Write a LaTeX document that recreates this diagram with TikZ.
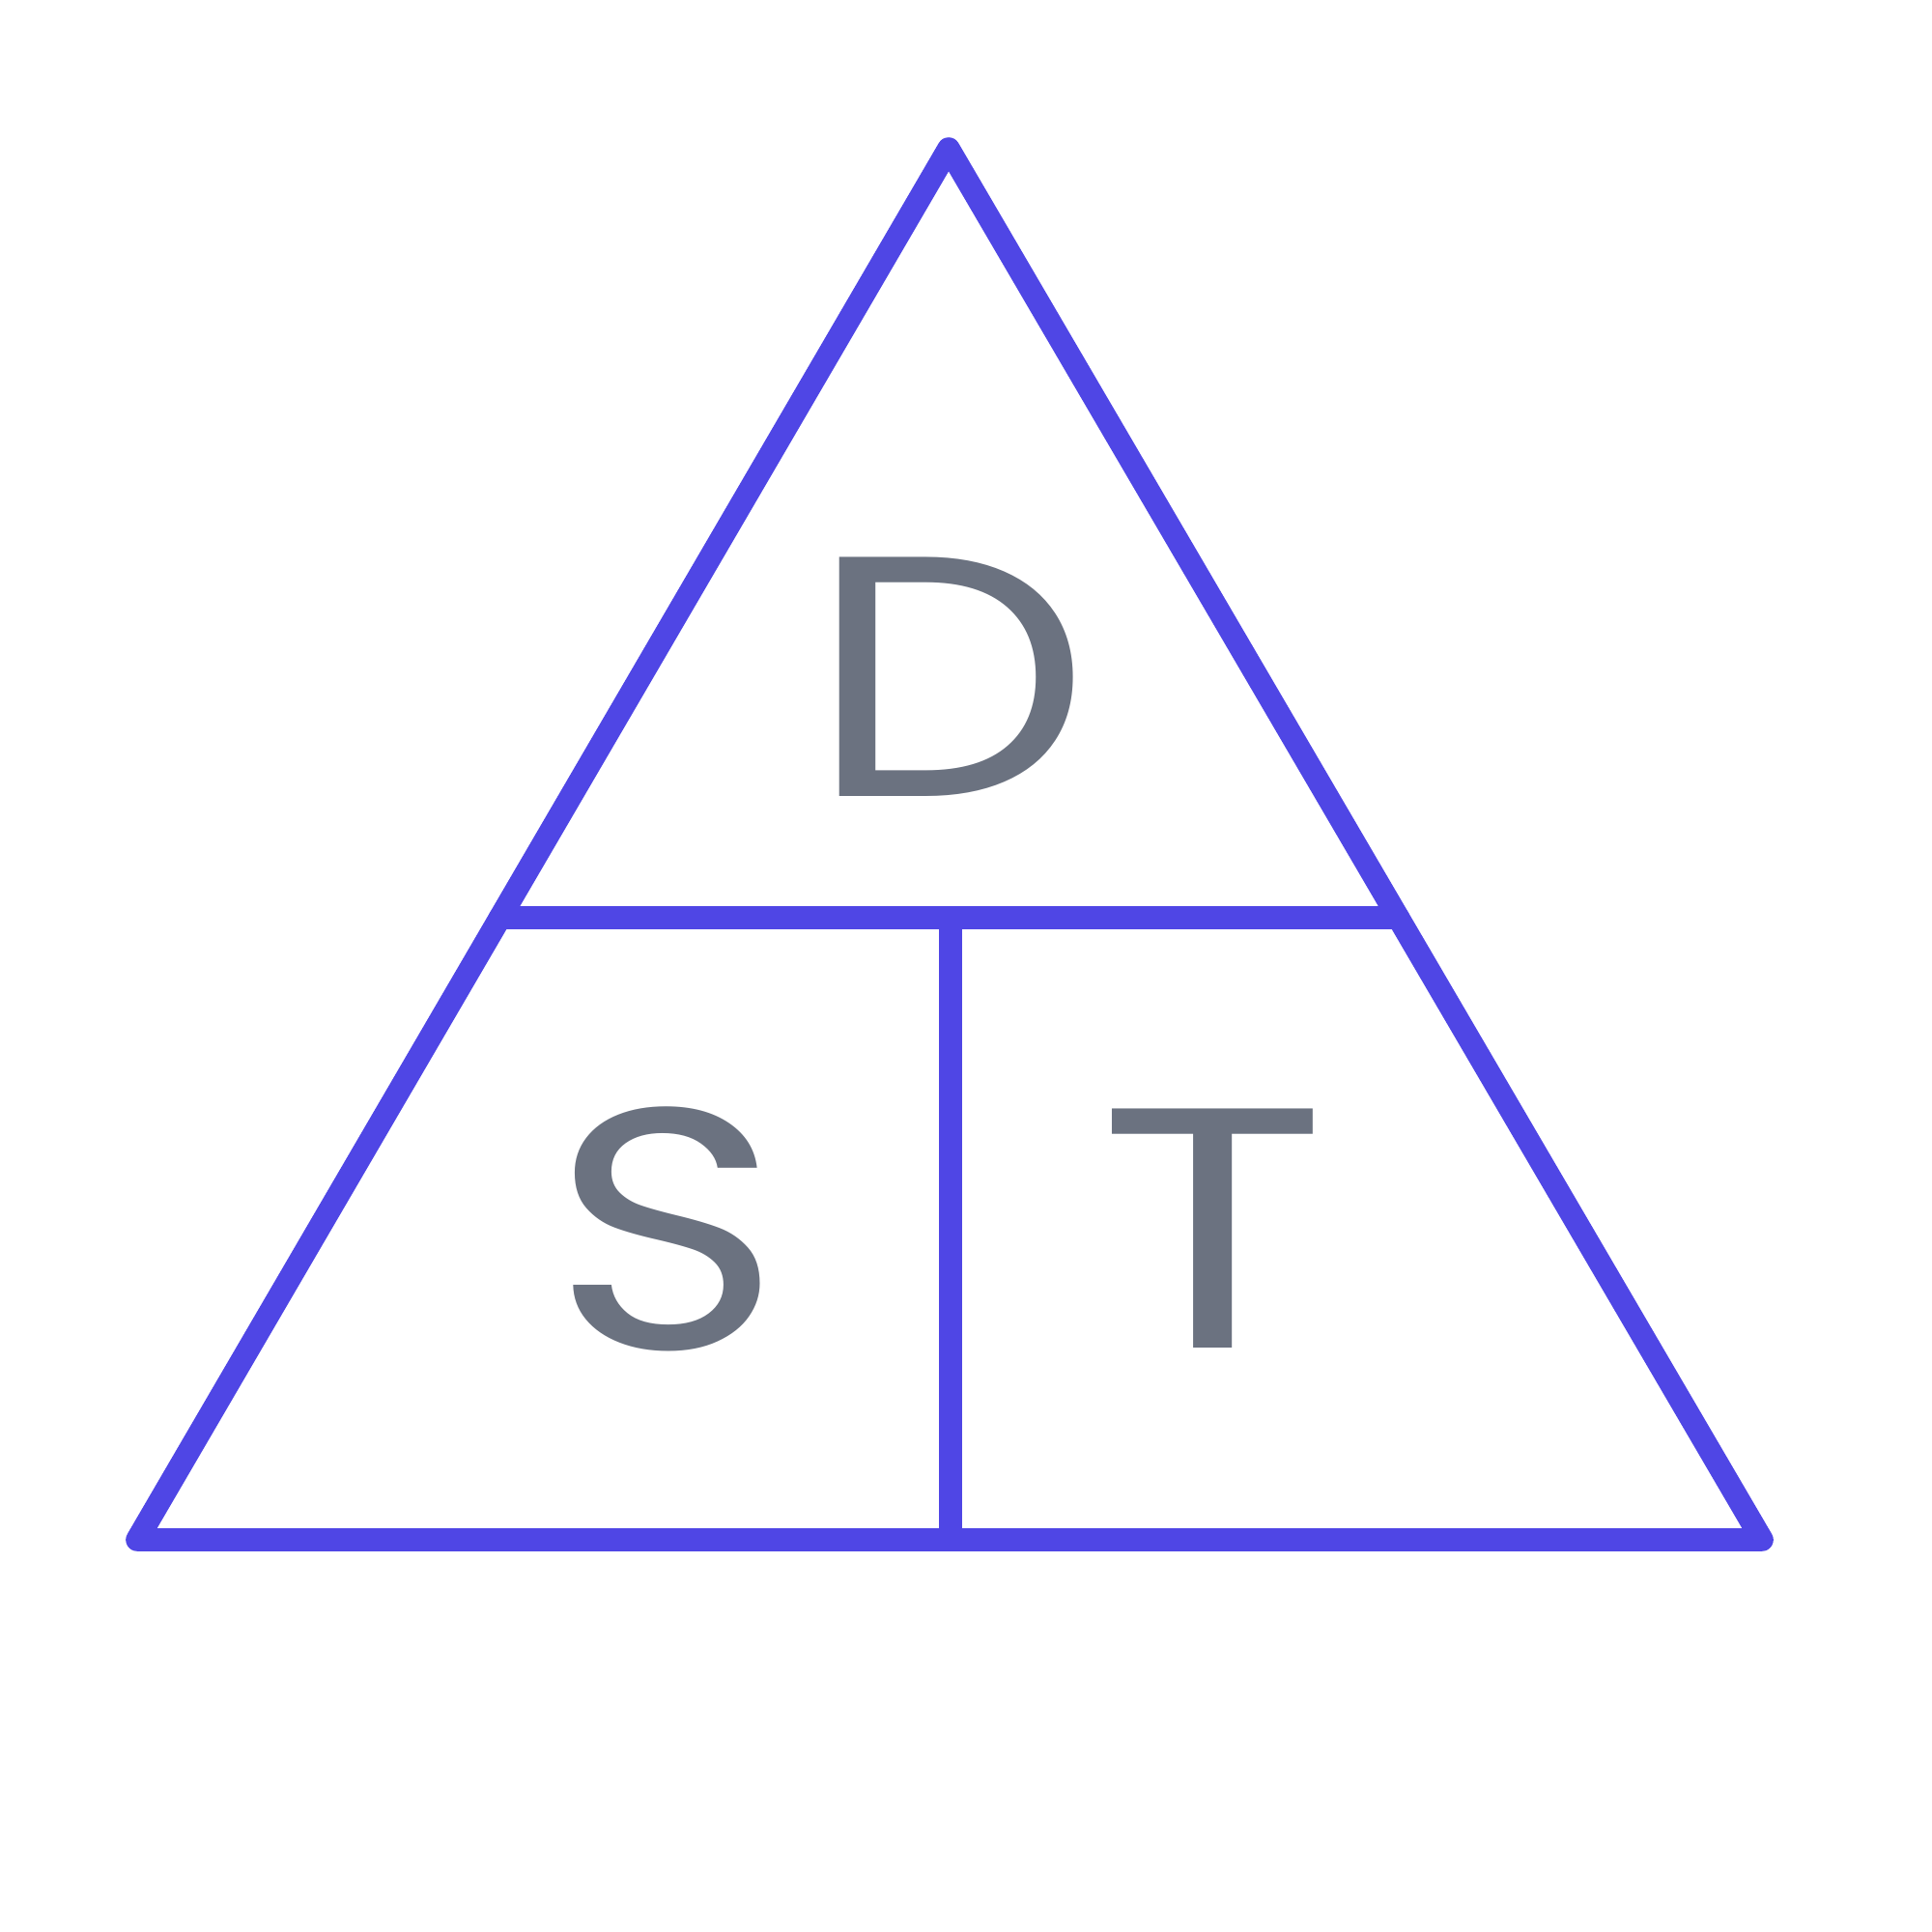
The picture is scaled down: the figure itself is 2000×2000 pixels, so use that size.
\documentclass[tikz,border=0pt]{standalone}
\usepackage{graphicx}
\usepackage{fontspec}
\setmainfont{Poppins}
\definecolor{edge}{HTML}{4F46E5}
\definecolor{txt}{HTML}{6B7280}
\newcommand{\wideletter}[2]{\scalebox{#1}[1]{#2}}
\begin{document}
\begin{tikzpicture}[x=0.01cm,y=-0.01cm,
  edgeline/.style={draw=edge,line width=6.7pt,line join=round,line cap=round},
  letter/.style={text=txt,font=\fontsize{101}{101}\selectfont,inner sep=0pt,anchor=center}]
\useasboundingbox (0,0) rectangle (2000,2000);
\coordinate (A) at (982,154);
\coordinate (BL) at (142,1594);
\coordinate (BR) at (1824,1594);
\path (A) -- (BL) coordinate[pos=0.5528] (ML);
\path (A) -- (BR) coordinate[pos=0.5528] (MR);
\coordinate (MC) at (984,950);
\coordinate (BC) at (984,1594);
\draw[edgeline] (A) -- (BR) -- (BL) -- cycle;
\draw[edgeline] (ML) -- (MR);
\draw[edgeline,line cap=butt] (MC) -- (BC);
\node[letter] (D) at (983,701) {\wideletter{1.16}{D}};
\node[letter] (S) at (690,1272) {\wideletter{1.15}{S}};
\node[letter] (T) at (1256,1272) {\wideletter{1.24}{T}};
\end{tikzpicture}
\end{document}
